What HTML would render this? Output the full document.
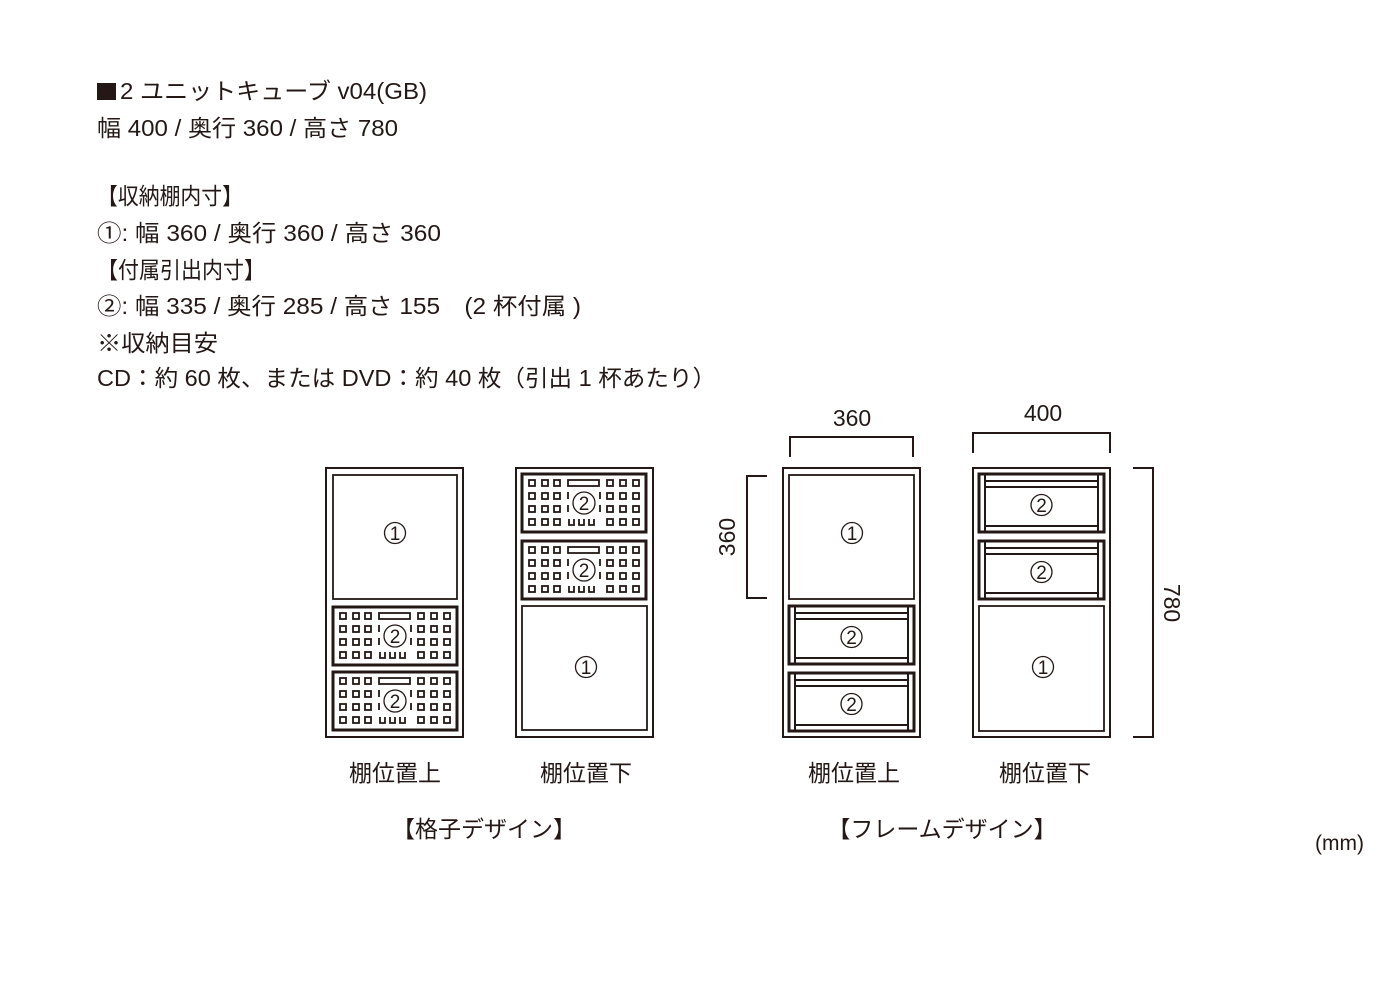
<!DOCTYPE html>
<html><head><meta charset="utf-8"><style>
html,body{margin:0;padding:0;background:#fff}
svg{display:block}
text{font-family:"Liberation Sans","Noto Sans CJK JP",sans-serif;fill:#231815}
</style></head><body>
<svg width="1400" height="1000" viewBox="0 0 1400 1000" xmlns="http://www.w3.org/2000/svg">
<defs>
<g id="grid">
  <rect x="0" y="0" width="124" height="58" fill="#fff" stroke="#231815" stroke-width="3"/>
  <g fill="none" stroke="#231815" stroke-width="1.8">
    <rect x="7" y="6" width="6" height="6"/><rect x="20" y="6" width="6" height="6"/><rect x="32" y="6" width="6" height="6"/>
    <rect x="7" y="19" width="6" height="6"/><rect x="20" y="19" width="6" height="6"/><rect x="32" y="19" width="6" height="6"/>
    <rect x="7" y="32" width="6" height="6"/><rect x="20" y="32" width="6" height="6"/><rect x="32" y="32" width="6" height="6"/>
    <rect x="7" y="45" width="6" height="6"/><rect x="20" y="45" width="6" height="6"/><rect x="32" y="45" width="6" height="6"/>
    <rect x="85" y="6" width="6" height="6"/><rect x="98" y="6" width="6" height="6"/><rect x="111" y="6" width="6" height="6"/>
    <rect x="85" y="19" width="6" height="6"/><rect x="98" y="19" width="6" height="6"/><rect x="111" y="19" width="6" height="6"/>
    <rect x="85" y="32" width="6" height="6"/><rect x="98" y="32" width="6" height="6"/><rect x="111" y="32" width="6" height="6"/>
    <rect x="85" y="45" width="6" height="6"/><rect x="98" y="45" width="6" height="6"/><rect x="111" y="45" width="6" height="6"/>
    <rect x="46" y="6" width="31" height="6"/>
    <path d="M46 18v7M46 31v7M78 18v7M78 31v7"/>
    <path d="M47 45v6h5v-6M57 45v6h5v-6M67 45v6h5v-6"/>
  </g>
  <circle cx="62" cy="29" r="11" fill="#fff" stroke="#231815" stroke-width="1.3"/>
  <text x="62" y="36" font-size="19" text-anchor="middle">2</text>
</g>
<g id="frame">
  <rect x="0" y="0" width="125" height="58" fill="#fff" stroke="#231815" stroke-width="3"/>
  <g fill="none" stroke="#231815" stroke-width="2">
    <path d="M6 1v56M119 1v56"/>
    <path d="M6 7h113M6 13h113M6 52h113"/>
  </g>
  <circle cx="62.5" cy="31" r="10.5" fill="#fff" stroke="#231815" stroke-width="1.3"/>
  <text x="62.5" y="38" font-size="19" text-anchor="middle">2</text>
</g>
<g id="one">
  <circle cx="0" cy="0" r="10.5" fill="#fff" stroke="#231815" stroke-width="1.3"/>
  <text x="0" y="7" font-size="19" text-anchor="middle">1</text>
</g>
</defs>

<rect x="97" y="83" width="19" height="17" fill="#231815"/>
<g font-size="23">
<text x="120" y="99" textLength="307" lengthAdjust="spacingAndGlyphs">2 ユニットキューブ v04(GB)</text>
<text x="97" y="136" textLength="301" lengthAdjust="spacingAndGlyphs">幅 400 / 奥行 360 / 高さ 780</text>
<text x="97" y="204" textLength="146" lengthAdjust="spacingAndGlyphs">【収納棚内寸】</text>
<text x="97" y="241" textLength="344" lengthAdjust="spacingAndGlyphs">①: 幅 360 / 奥行 360 / 高さ 360</text>
<text x="97" y="278" textLength="168" lengthAdjust="spacingAndGlyphs">【付属引出内寸】</text>
<text x="97" y="314" textLength="484" lengthAdjust="spacingAndGlyphs">②: 幅 335 / 奥行 285 / 高さ 155　(2 杯付属 )</text>
<text x="97" y="351" textLength="121" lengthAdjust="spacingAndGlyphs">※収納目安</text>
<text x="97" y="386" textLength="619" lengthAdjust="spacingAndGlyphs">CD：約 60 枚、または DVD：約 40 枚（引出 1 杯あたり）</text>
</g>

<g fill="none" stroke="#231815" stroke-width="2">
  <rect x="326" y="468" width="137" height="269"/>
  <rect x="333" y="475" width="124" height="124" stroke-width="1.8"/>
  <rect x="516" y="468" width="137" height="269"/>
  <rect x="522" y="606" width="125" height="124" stroke-width="1.8"/>
  <rect x="783" y="468" width="137" height="269"/>
  <rect x="789" y="475" width="125" height="124" stroke-width="1.8"/>
  <rect x="973" y="468" width="137" height="269"/>
  <rect x="979" y="606" width="125" height="125" stroke-width="1.8"/>
  <path d="M790 457v-20h123v20"/>
  <path d="M973 453v-20h137v20"/>
  <path d="M767 476h-20v122h20"/>
  <path d="M1133 468h20v269h-20"/>
</g>
<use href="#grid" x="333" y="607"/>
<use href="#grid" x="333" y="672"/>
<use href="#grid" x="522" y="474"/>
<use href="#grid" x="522" y="541"/>
<use href="#frame" x="789" y="606"/>
<use href="#frame" x="789" y="673"/>
<use href="#frame" x="979" y="474"/>
<use href="#frame" x="979" y="541"/>
<use href="#one" x="395" y="533"/>
<use href="#one" x="586" y="667"/>
<use href="#one" x="852" y="533"/>
<use href="#one" x="1043" y="667"/>

<g font-size="23" text-anchor="middle">
<text x="852" y="426">360</text>
<text x="1043" y="421">400</text>
<text transform="translate(735,537) rotate(-90)">360</text>
<text transform="translate(1164,603) rotate(90)">780</text>
<text x="395" y="781">棚位置上</text>
<text x="586" y="781">棚位置下</text>
<text x="854" y="781">棚位置上</text>
<text x="1045" y="781">棚位置下</text>
<text x="484" y="837">【格子デザイン】</text>
<text x="942" y="837">【フレームデザイン】</text>
</g>
<text x="1315" y="850" font-size="21">(mm)</text>
</svg>
</body></html>
